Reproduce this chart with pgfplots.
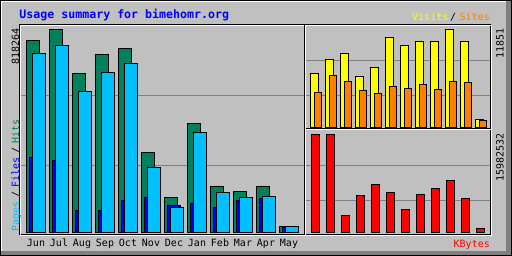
\documentclass[border=0pt]{standalone}
\usepackage{pgfplots}
\pgfplotsset{compat=1.18}
\usepackage{pgfplotstable}
\usepackage{fontspec}
\setmainfont{DejaVu Sans Mono}
\definecolor{bg}{HTML}{C0C0C0}
\definecolor{gridc}{HTML}{808080}
\definecolor{hitc}{HTML}{00805C}
\definecolor{filec}{HTML}{0000FF}
\definecolor{pagec}{HTML}{00C0FF}
\definecolor{visitc}{HTML}{FFFF00}
\definecolor{sitec}{HTML}{FF8000}
\definecolor{kbc}{HTML}{FF0000}

\pgfplotstableread{
i hits files pages
0 772700 301100 721500
1 818264 289000 753800
2 639700 87500 568400
3 716300 87500 644900
4 740500 127800 681200
5 321300 139900 260800
6 139900 107600 99600
7 438200 115700 401900
8 184200 99600 160000
9 164100 127800 139900
10 184200 135800 143900
11 23000 20200 23000
}\maintab

\pgfplotstableread{
i visits sites kbytes
0 6494 4196 15982532
1 8187 6252 15950000
2 8913 5527 2723600
3 6131 4438 5985300
4 7219 4075 7779300
5 10847 4922 6474600
6 9880 4680 3702100
7 10364 5164 6148400
8 10364 4559 7126900
9 11851 5527 8431600
10 10364 5406 5496000
11 931 810 603400
}\sidetab

\pgfplotsset{
  webstyle/.style={
    scale only axis, anchor=south west,
    axis line style={draw=none}, tick style={draw=none},
    ymajorgrids, grid style={draw=gridc, line width=1pt},
    yticklabels={}, scaled y ticks=false, scaled x ticks=false,
    ybar, 
    every axis plot/.append style={draw=black, line width=1pt},
  }
}

\begin{document}
\begin{tikzpicture}[x=1pt,y=1pt]
\fill[bg] (0,0) rectangle (512,256);
% outer bevel
\fill[gridc] (1,1) rectangle (511,5);
\fill[gridc] (506,1) rectangle (511,255);
\draw[white, line width=1pt] (1.5,5) -- (1.5,254.5) -- (506,254.5);
\draw[black, line width=1pt] (0.5,0.5) rectangle (511.5,255.5);

% main graph
\begin{axis}[webstyle,
  at={(20pt,21pt)}, width=284pt, height=210pt,
  xmin=-0.5652, xmax=11.7826, ymin=-10077, ymax=836403,
  ytick={270068,552228},
  xtick={0,...,11},
  xticklabels={Jun,Jul,Aug,Sep,Oct,Nov,Dec,Jan,Feb,Mar,Apr,May},
  xticklabel style={anchor=base, yshift=-7pt, xshift=3pt, font=\fontsize{10}{12}\selectfont},
  bar width=13pt,
]
\addplot[fill=hitc, bar shift=0pt] table[x=i, y=hits] {\maintab};
\addplot[fill=filec, bar shift=3pt] table[x=i, y=files] {\maintab};
\addplot[fill=pagec, bar shift=6pt] table[x=i, y=pages] {\maintab};
\end{axis}

% visits / sites
\begin{axis}[webstyle,
  at={(305pt,127pt)}, width=186pt, height=104pt,
  xmin=-0.6333, xmax=11.7667, ymin=-181.4, ymax=12395,
  ytick={3870,8102}, xtick=\empty,
]
\addplot[fill=visitc, bar width=8pt, bar shift=0pt] table[x=i, y=visits] {\sidetab};
\addplot[fill=sitec, bar width=7pt, bar shift=3.5pt] table[x=i, y=sites] {\sidetab};
\end{axis}

% kbytes
\begin{axis}[webstyle,
  at={(305pt,21pt)}, width=186pt, height=105pt,
  xmin=-0.6333, xmax=11.7667, ymin=-407718, ymax=16716418,
  ytick={5218784,10926829}, xtick=\empty,
]
\addplot[fill=kbc, bar width=8pt, bar shift=1.17pt] table[x=i, y=kbytes] {\sidetab};
\end{axis}

% frames
\draw[black, line width=1pt] (19.5,21.5) rectangle (490.5,231.5);
\draw[white, line width=1pt] (20.5,20.5) rectangle (491.5,230.5);
\draw[black, line width=1pt] (304.5,21) -- (304.5,231);
\draw[white, line width=1pt] (305.5,21) -- (305.5,230);
\draw[black, line width=1pt] (306,127.5) -- (491,127.5);
\draw[white, line width=1pt] (306,126.5) -- (491,126.5);

% texts
\node[anchor=base west, inner sep=0pt, text=filec, font=\fontsize{11.6}{13}\selectfont\bfseries] at (19.3,237) {Usage summary for bimehomr.org};
\node[anchor=base west, inner sep=0pt, text=visitc, font=\fontsize{10}{12}\selectfont] at (412,235.5) {Visits};
\node[anchor=base west, inner sep=0pt, text=black, font=\fontsize{10}{12}\selectfont] at (450,235.5) {/};
\node[anchor=base west, inner sep=0pt, text=sitec, font=\fontsize{10}{12}\selectfont] at (459.5,235.5) {Sites};
\node[anchor=base west, inner sep=0pt, text=kbc, font=\fontsize{10}{12}\selectfont] at (453.5,8) {KBytes};

\node[rotate=90, anchor=base east, inner sep=0pt, font=\fontsize{10}{12}\selectfont] at (19,228) {818264};
\node[rotate=90, anchor=base east, inner sep=0pt, font=\fontsize{10}{12}\selectfont] at (503.5,228) {11851};
\node[rotate=90, anchor=base east, inner sep=0pt, font=\fontsize{10}{12}\selectfont] at (503.5,123) {15982532};

\node[rotate=90, anchor=base west, inner sep=0pt, text=pagec, font=\fontsize{10}{12}\selectfont] at (19,24.7) {Pages};
\node[rotate=90, anchor=base west, inner sep=0pt, text=black, font=\fontsize{10}{12}\selectfont] at (19,58.7) {/};
\node[rotate=90, anchor=base west, inner sep=0pt, text=filec, font=\fontsize{10}{12}\selectfont] at (19,68.7) {Files};
\node[rotate=90, anchor=base west, inner sep=0pt, text=black, font=\fontsize{10}{12}\selectfont] at (19,102.7) {/};
\node[rotate=90, anchor=base west, inner sep=0pt, text=hitc, font=\fontsize{10}{12}\selectfont] at (19,112.7) {Hits};

\pgfresetboundingbox
\useasboundingbox (0,0) rectangle (512,256);
\end{tikzpicture}
\end{document}
